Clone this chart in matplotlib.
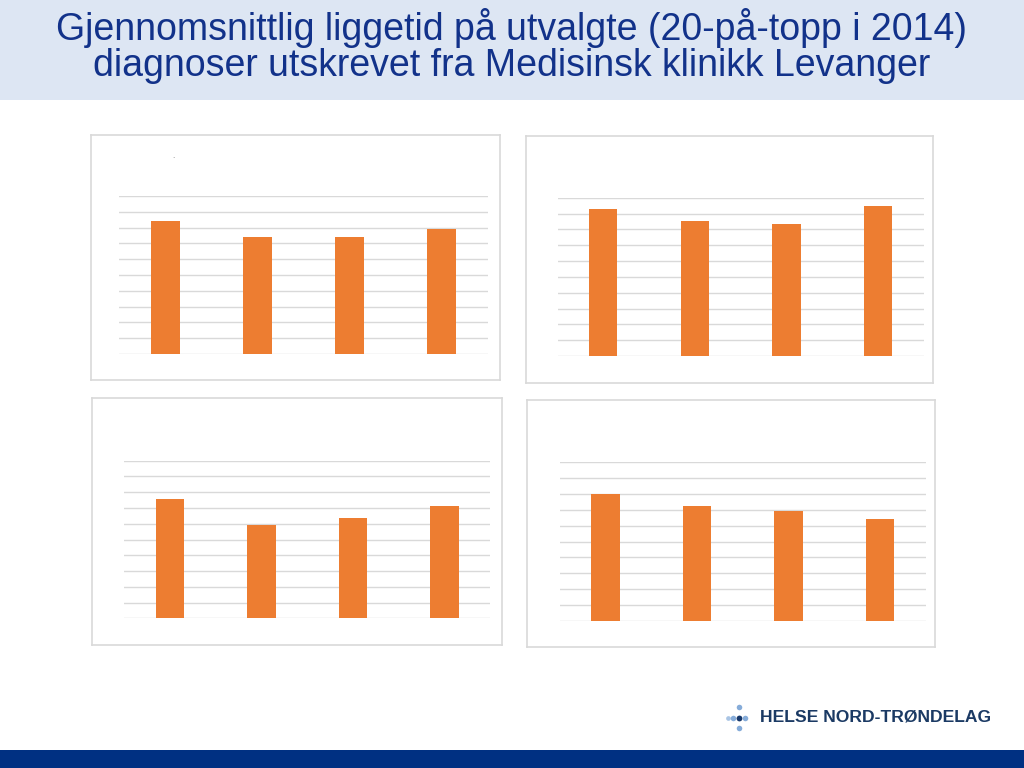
"""Gjennomsnittlig liggetid - fire små søylediagram på en lysbildeside."""
import matplotlib
matplotlib.use("Agg")
import matplotlib.pyplot as plt
from matplotlib.patches import Rectangle

plt.rcParams["font.family"] = ["Liberation Sans", "DejaVu Sans"]

W, H = 1024, 768

title_1 = "Gjennomsnittlig liggetid på utvalgte (20-på-topp i 2014)"
title_2 = "diagnoser utskrevet fra Medisinsk klinikk Levanger"
logo_text = "HELSE NORD-TRØNDELAG"

categories = ["2011", "2012", "2013", "2014"]
panel_1 = [8.44, 7.42, 7.38, 7.89]
panel_2 = [9.30, 8.50, 8.36, 9.45]
panel_3 = [7.59, 5.90, 6.35, 7.13]
panel_4 = [8.02, 7.24, 6.94, 6.44]
y_max = 10

BAR = "#ed7d31"
GRID = "#d9d9d9"
NAVY = "#12328a"


def px_rect(x0, y0, x1, y1):
    # piksel (topp-venstre origo) -> figurkoordinater [l, b, w, h]
    return [x0 / W, 1 - y1 / H, (x1 - x0) / W, (y1 - y0) / H]


fig = plt.figure(figsize=(W / 100, H / 100), dpi=100)

# topptekst-bånd og bunnlinje
fig.patches.append(Rectangle((0, 1 - 100 / H), 1, 100 / H, transform=fig.transFigure,
                             facecolor="#dde6f3", edgecolor="none", zorder=0))
fig.patches.append(Rectangle((0, 0), 1, 18 / H, transform=fig.transFigure,
                             facecolor="#003082", edgecolor="none", zorder=0))
fig.text(0.5, 1 - 39.5 / H, title_1, ha="center", va="baseline", fontsize=27, color=NAVY)
fig.text(0.5, 1 - 76.5 / H, title_2, ha="center", va="baseline", fontsize=27, color=NAVY)

# (boks, plotområde) i piksler
panels = [
    (panel_1, (90.7, 134.7, 499.7, 380.0), (119.3, 196.0, 487.5, 354.0)),
    (panel_2, (526.0, 136.0, 933.3, 383.0), (557.5, 197.7, 923.8, 356.0)),
    (panel_3, (92.0, 398.3, 502.3, 645.0), (124.0, 460.7, 490.3, 618.3)),
    (panel_4, (527.3, 400.0, 935.0, 646.7), (559.7, 462.3, 926.0, 620.7)),
]

for vals, box, plot in panels:
    bx = fig.add_axes(px_rect(*box))
    bx.set_xticks([]); bx.set_yticks([])
    for s in bx.spines.values():
        s.set_color(GRID); s.set_linewidth(1.2)
    bx.set_facecolor("white")

    ax = fig.add_axes(px_rect(*plot))
    ax.bar(range(len(categories)), vals, width=0.31, color=BAR, zorder=3)
    ax.set_xlim(-0.5, len(categories) - 0.5)
    ax.set_ylim(0, y_max)
    for g in range(y_max + 1):
        ax.axhline(g, color=GRID, lw=1, zorder=1)
    ax.set_xticks([]); ax.set_yticks([])
    for s in ax.spines.values():
        s.set_visible(False)
    ax.patch.set_alpha(0)

fig.text(173 / W, 1 - 157 / H, ".", fontsize=6, color="#777777", ha="center", va="center")

# logo: små prikker i korsform
dots = [(727.5, 717.5, "#a9c4e4", 3.4), (733.0, 717.5, "#86acd9", 4.0),
        (739.0, 717.5, "#17386b", 4.2), (745.0, 717.5, "#86acd9", 4.0),
        (739.0, 706.5, "#86acd9", 4.0), (739.0, 728.0, "#86acd9", 4.0)]
for x, y, c, ms in dots:
    fig.add_artist(plt.Line2D([x / W], [1 - y / H], marker="o", ms=ms,
                              color=c, markeredgewidth=0, linestyle="none"))
fig.text(760 / W, 1 - 717.5 / H, logo_text, ha="left", va="center", fontsize=12.6,
         fontweight="bold", color="#1b3a64")

fig.savefig("out.png", dpi=100)
